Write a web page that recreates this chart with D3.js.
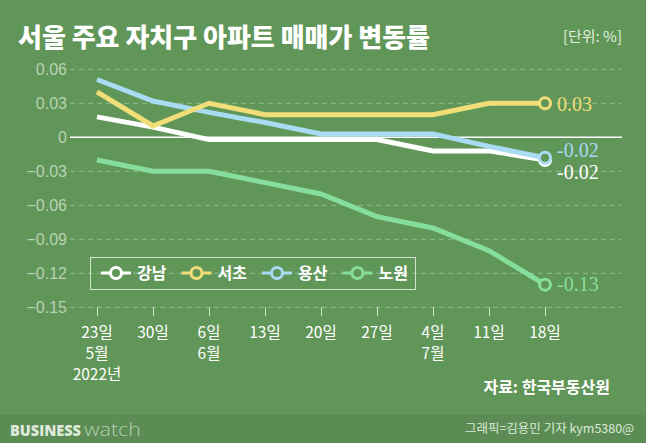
<!DOCTYPE html>
<html><head><meta charset="utf-8">
<script src="https://cdn.jsdelivr.net/npm/d3@7"></script>
<style>
html,body{margin:0;padding:0;background:#619659;}
svg{display:block;}
</style></head>
<body>
<script>
const categories = ["23일","30일","6일","13일","20일","27일","4일","11일","18일"];
const monthLabels = ["5월","","6월","","","","7월","",""];
const yearLabels = ["2022년","","","","","","","",""];
const seriesNames = ["강남","서초","용산","노원"];
const gangnam = [0.018, 0.009, -0.002, -0.002, -0.002, -0.002, -0.012, -0.012, -0.02];
const seocho  = [0.04, 0.01, 0.03, 0.02, 0.02, 0.02, 0.02, 0.03, 0.03];
const yongsan = [0.051, 0.032, 0.022, 0.013, 0.003, 0.003, 0.003, -0.008, -0.018];
const nowon   = [-0.02, -0.03, -0.03, -0.04, -0.05, -0.07, -0.08, -0.10, -0.13];
const yTicks = [0.06, 0.03, 0, -0.03, -0.06, -0.09, -0.12, -0.15];
const endLabels = ["-0.02","0.03","-0.02","-0.13"];

const W = 646, H = 443;
const BG = "#619659";
const colors = {"강남":"#ffffff","서초":"#f2de79","용산":"#a9dbf3","노원":"#86de9d"};
const seriesData = {"강남":gangnam,"서초":seocho,"용산":yongsan,"노원":nowon};

const svg = d3.select("body").append("svg").attr("width",W).attr("height",H);
svg.append("rect").attr("width",W).attr("height",H).attr("fill",BG);
svg.append("rect").attr("x",0).attr("y",415).attr("width",W).attr("height",28).attr("fill","#5a8c53");

const KR = "'Noto Sans CJK KR','Noto Sans',sans-serif";

// title
svg.append("text").attr("x",18).attr("y",47).attr("fill","#ffffff")
  .attr("font-family",KR).attr("font-weight",900).attr("font-size",26)
  .attr("textLength",412).attr("lengthAdjust","spacingAndGlyphs")
  .text("서울 주요 자치구 아파트 매매가 변동률");
svg.append("text").attr("x",622).attr("y",42).attr("text-anchor","end").attr("fill","#e3eede")
  .attr("font-family",KR).attr("font-size",15).text("[단위: %]");

const x = d3.scalePoint().domain(categories).range([97,545]);
const y = d3.scaleLinear().domain([-0.15,0.06]).range([307.3,69.3]);

// grid
const grid = svg.append("g");
yTicks.forEach(t=>{
  grid.append("line").attr("x1",70).attr("x2",622).attr("y1",y(t)).attr("y2",y(t))
    .attr("stroke", t===0 ? "#ffffff" : "#93bb8d").attr("stroke-width", t===0?1.5:1)
    .attr("stroke-dasharray", t===0 ? null : "5,4");
});
// y axis labels
const yAxis = d3.axisLeft(y).tickValues(yTicks).tickSize(0).tickPadding(0)
  .tickFormat(d => d===0 ? "0" : (d<0?"\u2212":"") + Math.abs(d).toFixed(2));
const gy = svg.append("g").attr("transform","translate(67,0)").call(yAxis);
gy.select(".domain").remove();
gy.selectAll("text").attr("fill","#b9d1b4").attr("font-family","'Liberation Sans',Arial,sans-serif")
  .attr("font-size",16).attr("dy","0.35em");

// x axis
const xAxis = d3.axisBottom(x).tickSize(9).tickFormat("");
const gx = svg.append("g").attr("transform","translate(0,307)").call(xAxis);
gx.select(".domain").remove();
gx.selectAll("line").attr("stroke","#d0e2cb").attr("stroke-width",1);
const xl = svg.append("g").attr("font-family",KR).attr("font-size",15.5).attr("fill","#ffffff").attr("text-anchor","middle");
categories.forEach((c,i)=>{
  xl.append("text").attr("x",x(c)).attr("y",338).text(c);
  if (monthLabels[i]) xl.append("text").attr("x",x(c)).attr("y",359).text(monthLabels[i]);
  if (yearLabels[i]) xl.append("text").attr("x",x(c)).attr("y",380).text(yearLabels[i]);
});

// lines
const line = d3.line().x((d,i)=>x(categories[i])).y(d=>y(d));
const drawOrder = ["노원","강남","용산","서초"];
drawOrder.forEach(name=>{
  const vals = seriesData[name];
  svg.append("path").datum(vals).attr("d",line).attr("fill","none")
    .attr("stroke",colors[name]).attr("stroke-width",5).attr("stroke-linejoin","miter");
  const last = vals.length-1;
  svg.append("circle").attr("cx",x(categories[last])).attr("cy",y(vals[last])).attr("r",5.5)
    .attr("fill",BG).attr("stroke",colors[name]).attr("stroke-width",3);
});

// end labels
const labelY = {"서초":104,"용산":150,"강남":172,"노원":284};
seriesNames.forEach((name,i)=>{
  svg.append("text").attr("x",557).attr("y",labelY[name]).attr("dy","0.33em")
    .attr("fill",colors[name]).attr("font-family","'Liberation Serif','DejaVu Serif',serif")
    .attr("font-size",20).text(endLabels[i]);
});

// legend
const lg = svg.append("g");
lg.append("rect").attr("x",90.5).attr("y",257.5).attr("width",325).attr("height",32)
  .attr("fill","none").attr("stroke","#d4e4cf").attr("stroke-width",1);
seriesNames.forEach((name,i)=>{
  const cx = 116 + i*80.5, cy = 273;
  lg.append("line").attr("x1",cx-15).attr("x2",cx+15).attr("y1",cy).attr("y2",cy)
    .attr("stroke",colors[name]).attr("stroke-width",3);
  lg.append("circle").attr("cx",cx).attr("cy",cy).attr("r",5.5).attr("fill",BG)
    .attr("stroke",colors[name]).attr("stroke-width",3);
  lg.append("text").attr("x",cx+21).attr("y",cy).attr("dy","0.36em").attr("fill","#ffffff")
    .attr("font-family",KR).attr("font-weight",700).attr("font-size",16).text(name);
});

// source
svg.append("text").attr("x",610).attr("y",393).attr("text-anchor","end").attr("fill","#ffffff")
  .attr("font-family",KR).attr("font-weight",700).attr("font-size",16).text("자료: 한국부동산원");

// footer
svg.append("text").attr("x",10).attr("y",436).attr("font-size",16)
  .attr("font-family","'Open Sans','Liberation Sans',sans-serif").attr("font-weight",800)
  .attr("fill","#dfe9db").attr("textLength",71).attr("lengthAdjust","spacingAndGlyphs").text("BUSINESS");
svg.append("text").attr("x",84).attr("y",436).attr("font-size",19)
  .attr("font-family","'Open Sans','Liberation Sans',sans-serif").attr("font-weight",300)
  .attr("fill","#b8cfb3").attr("textLength",57).attr("lengthAdjust","spacingAndGlyphs").text("watch");
svg.append("text").attr("x",634).attr("y",433).attr("text-anchor","end").attr("fill","#dde9d9")
  .attr("font-family",KR).attr("font-size",12.5).text("그래픽=김용민 기자 kym5380@");
</script>
</body></html>
